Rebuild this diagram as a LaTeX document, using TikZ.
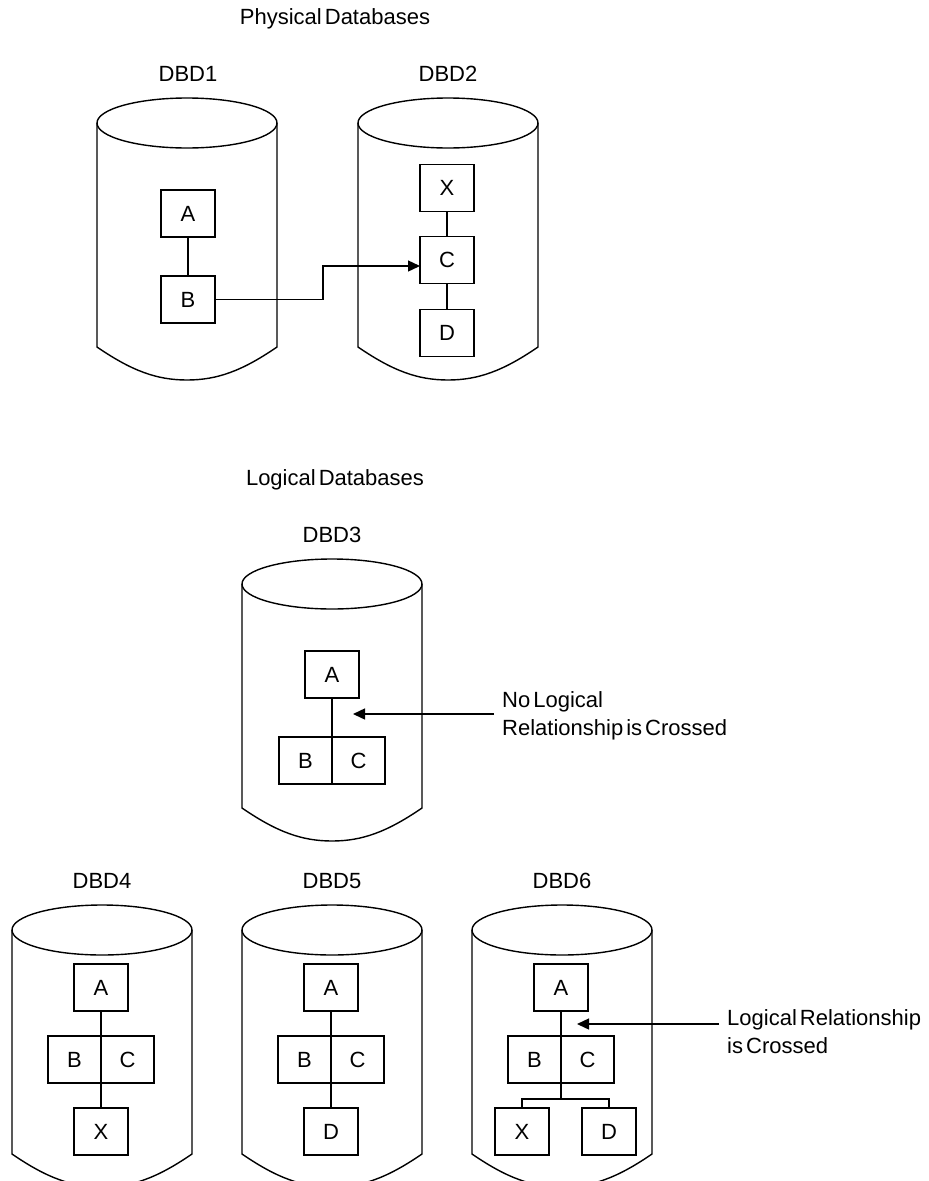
\documentclass[tikz,border=0pt]{standalone}
\usepackage{fontspec}
\setmainfont{Liberation Sans}[WordSpace=0.5]
\usepackage{tikz}
\usetikzlibrary{arrows.meta,positioning,calc}
\tikzset{
  dbcylinder/.pic={
    \draw[line width=1.4pt] (0,0) ellipse [x radius=90pt,y radius=25pt];
    \draw[line width=1.4pt] (-90,0) -- (-90,224)
      .. controls (-55,248) and (-30,257) .. (0,257)
      .. controls (30,257) and (55,248) .. (90,224) -- (90,0);
  },
  segbox/.style={draw,line width=1.4pt,minimum width=54pt,minimum height=47pt,
    inner sep=0pt,outer sep=0pt},
  halfbox/.style={segbox,minimum width=53pt},
  link/.style={line width=1.4pt},
  pointer/.style={-{Triangle[length=12pt,width=11pt]},line width=1.4pt}
}

\begin{document}
\begin{tikzpicture}[
  x=1pt,y=-1pt,
  every node/.style={font=\fontsize{22pt}{28pt}\selectfont},
  dblabel/.style={anchor=base},
  notetext/.style={align=left,anchor=west,inner xsep=8pt,inner ysep=0pt}
]
  \useasboundingbox (0,0) rectangle (929,1181);

  % physical databases
  \node[dblabel] (physical) at (335,24) {Physical Databases};
  \pic at (187,123) {dbcylinder};
  \pic at (448,123) {dbcylinder};
  \node[dblabel] (dbd1) at (188,81) {DBD1};
  \node[dblabel] (dbd2) at (448,81) {DBD2};

  \node[segbox] (A1) at (188,213.5) {A};
  \node[segbox,below=39pt of A1] (B1) {B};
  \draw[link] (A1)--(B1);

  \node[segbox] (X2) at (447,188) {X};
  \node[segbox,below=25pt of X2] (C2) {C};
  \node[segbox,below=26pt of C2] (D2) {D};
  \draw[link] (X2)--(C2);
  \draw[link] (C2)--(D2);
  \draw[pointer] (B1.east) -- ++(108,0) |- ([yshift=-6pt]C2.west);

  % logical databases
  \node[dblabel] (logical) at (335,485) {Logical Databases};
  \pic at (332,584) {dbcylinder};
  \node[dblabel] (dbd3) at (332,542) {DBD3};
  \node[segbox] (A3) at (332,674.5) {A};
  \node[halfbox,anchor=north east] (B3) at ([yshift=-39pt]A3.south) {B};
  \node[halfbox,right=0pt of B3] (C3) {C};
  \draw[link] (A3.south) -- (B3.south east);
  \coordinate (tip3) at (353,714);
  \node[notetext] (note3) at (494,716) {No Logical\\Relationship is Crossed};
  \draw[pointer] (note3.west |- tip3) -- (tip3);

  \pic at (102,930) {dbcylinder};
  \pic at (332,930) {dbcylinder};
  \pic at (562,930) {dbcylinder};
  \node[dblabel] (dbd4) at (102,888) {DBD4};
  \node[dblabel] (dbd5) at (332,888) {DBD5};
  \node[dblabel] (dbd6) at (562,888) {DBD6};

  \node[segbox] (A4) at (101,987.5) {A};
  \node[halfbox,anchor=north east] (B4) at ([yshift=-25pt]A4.south) {B};
  \node[halfbox,right=0pt of B4] (C4) {C};
  \node[segbox,anchor=north] (X4) at ([yshift=-25pt]B4.south east) {X};
  \draw[link] (A4.south) -- (X4.north);

  \node[segbox] (A5) at (331,987.5) {A};
  \node[halfbox,anchor=north east] (B5) at ([yshift=-25pt]A5.south) {B};
  \node[halfbox,right=0pt of B5] (C5) {C};
  \node[segbox,anchor=north] (D5) at ([yshift=-25pt]B5.south east) {D};
  \draw[link] (A5.south) -- (D5.north);

  \node[segbox] (A6) at (561,987.5) {A};
  \node[halfbox,anchor=north east] (B6) at ([yshift=-25pt]A6.south) {B};
  \node[halfbox,right=0pt of B6] (C6) {C};
  \node[segbox,anchor=north] (X6) at ([xshift=-39pt,yshift=-25pt]B6.south east) {X};
  \node[segbox,right=33pt of X6] (D6) {D};
  \draw[link] (A6.south) -- ([yshift=-16pt]B6.south east) coordinate (fork6);
  \draw[link] (X6.north) |- (fork6) -| (D6.north);
  \coordinate (tip6) at (577,1024);
  \node[notetext] (note6) at (719,1032) {Logical Relationship\\is Crossed};
  \draw[pointer] (note6.west |- tip6) -- (tip6);
\end{tikzpicture}
\end{document}
